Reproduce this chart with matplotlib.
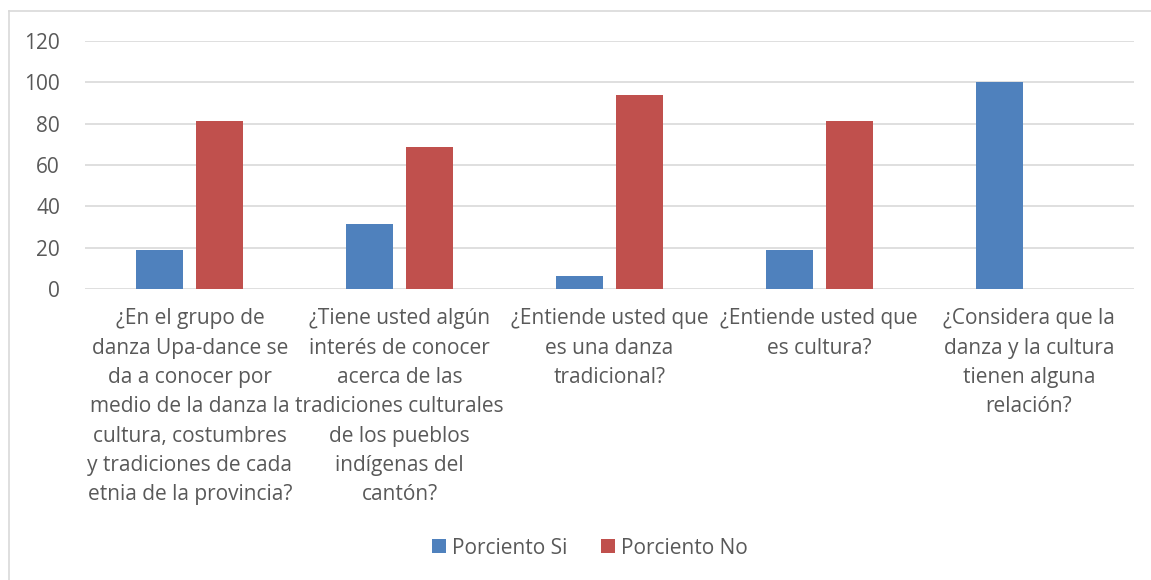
import matplotlib
matplotlib.use("Agg")
import matplotlib.pyplot as plt
import numpy as np
from matplotlib.lines import Line2D

categories = [
    "¿En el grupo de\ndanza Upa-dance se\nda a conocer por\nmedio de la danza la\ncultura, costumbres\ny tradiciones de cada\netnia de la provincia?",
    "¿Tiene usted algún\ninterés de conocer\nacerca de las\ntradiciones culturales\nde los pueblos\nindígenas del\ncantón?",
    "¿Entiende usted que\nes una danza\ntradicional?",
    "¿Entiende usted que\nes cultura?",
    "¿Considera que la\ndanza y la cultura\ntienen alguna\nrelación?",
]
porciento_si = [18.75, 31.25, 6.25, 18.75, 100]
porciento_no = [81.25, 68.75, 93.75, 81.25, 0]
yticks = [0, 20, 40, 60, 80, 100, 120]

FONT = "Open Sans"
TXT = "#595959"
FS = 15
plt.rcParams['font.family'] = [FONT, 'DejaVu Sans']

W, H = 1151, 580
fig = plt.figure(figsize=(W / 100, H / 100), dpi=100)
ax = fig.add_axes([85 / W, 1 - 289 / H, (1134 - 85) / W, (289 - 41) / H])

x = np.arange(len(categories))
bw = 0.224
off = 0.143
ax.bar(x - off, porciento_si, bw, color="#4F81BD", label="Porciento Si", zorder=3)
ax.bar(x + off, porciento_no, bw, color="#C0504D", label="Porciento No", zorder=3)

ax.set_xlim(-0.5, len(categories) - 0.5)
ax.set_ylim(0, 120)
ax.set_yticks(yticks)
ax.set_yticklabels([str(v) for v in yticks])
ax.yaxis.grid(True, color="#D9D9D9", linewidth=1.2, zorder=0)
ax.set_axisbelow(True)
for s in ax.spines.values():
    s.set_visible(False)
ax.tick_params(axis="both", length=0, labelsize=FS, colors=TXT, pad=0)
ax.tick_params(axis="y", pad=18)
ax.set_xticks(x)
ax.set_xticklabels([])
for i, c in enumerate(categories):
    ax.text(i, -9.3, c, ha="center", va="top", fontsize=FS, color=TXT,
            linespacing=1.52, transform=ax.transData)

leg = fig.legend(loc="center", bbox_to_anchor=(590 / W, 1 - 548 / H), ncol=2, frameon=False,
                 fontsize=FS, handlelength=0.65, handleheight=0.65, handletextpad=0.3,
                 columnspacing=1.6, labelcolor=TXT)

# chart border
fig.add_artist(Line2D([9 / W, 9 / W], [0, 1 - 11 / H], transform=fig.transFigure, color="#D9D9D9", linewidth=1.2))
fig.add_artist(Line2D([9 / W, 1], [1 - 11 / H, 1 - 11 / H], transform=fig.transFigure, color="#D9D9D9", linewidth=1.2))

fig.savefig("out.png", dpi=100)
